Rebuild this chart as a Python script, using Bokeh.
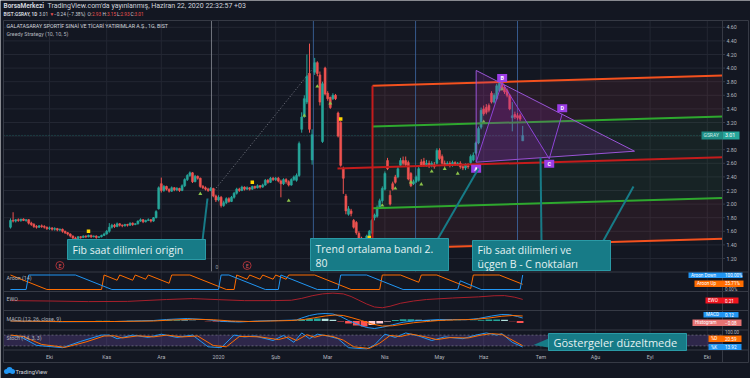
import numpy as np
import pandas as pd
from bokeh.plotting import figure
from bokeh.models import Range1d, ColumnDataSource
from bokeh.core.properties import value
from bokeh.embed import file_html
from bokeh.resources import INLINE

# ---------------------------------------------------------------- data
# BIST:GSRAY daily candles, 10 Sep 2019 .. 22 Jun 2020
opens = [
    1.66, 1.76, 1.75, 1.77, 1.76, 1.78, 1.76, 1.77, 1.72, 1.70, 1.67, 1.66, 1.68, 1.67, 1.66,
    1.64, 1.65, 1.63, 1.64, 1.62, 1.63, 1.60, 1.58, 1.56, 1.53, 1.50, 1.49, 1.52, 1.51, 1.53, 1.52, 1.54, 1.52, 1.53, 1.51, 1.52, 1.54,
    1.56, 1.60, 1.66, 1.69, 1.67, 1.71, 1.69, 1.68, 1.70, 1.69, 1.72, 1.70, 1.71, 1.75, 1.77, 1.74, 1.76, 1.77, 1.75, 1.80, 1.93,
    2.30, 2.20, 2.26, 2.22, 2.19, 2.24, 2.21, 2.23, 2.20, 2.27, 2.36, 2.42, 2.46, 2.33, 2.41, 2.38, 2.26, 2.24, 2.22, 2.20, 2.23, 2.12,
    2.06, 2.10, 1.98, 2.02, 2.08, 2.04, 2.10, 2.16, 2.22, 2.20, 2.25, 2.22, 2.24, 2.22, 2.26, 2.24, 2.27, 2.25, 2.28, 2.35, 2.32, 2.38,
    2.36, 2.38, 2.34, 2.30, 2.36, 2.33, 2.28, 2.36, 2.35, 2.42, 3.10, 3.30, 3.50, 3.92, 2.65, 3.94, 4.08, 3.90, 2.92, 4.00,
    3.63, 3.57, 3.55, 3.60, 3.34, 3.20, 2.52, 2.12, 1.85, 1.90, 1.76, 1.73, 1.57, 1.50, 1.42, 1.47, 1.53, 1.58, 1.80, 1.82, 1.95, 2.05,
    2.22, 2.64, 2.13, 2.30, 2.40, 2.40, 2.57, 2.64, 2.64, 2.61, 2.45, 2.30, 2.33, 2.35, 2.62, 2.63, 2.58, 2.60, 2.56, 2.58, 2.60,
    2.79, 2.70, 2.60, 2.58, 2.60, 2.57, 2.61, 2.58, 2.60, 2.55, 2.53, 2.56, 2.61, 2.65, 2.75, 2.90, 3.13,
    3.40, 3.42, 3.45, 3.63, 3.50, 3.55, 3.67, 3.78, 3.72, 3.67, 3.60, 3.27, 3.32, 3.30, 3.30, 2.93,
]
highs = [
    1.79, 1.88, 1.78, 1.79, 1.78, 1.79, 1.78, 1.78, 1.74, 1.72, 1.69, 1.69, 1.70, 1.69, 1.67,
    1.67, 1.66, 1.66, 1.65, 1.64, 1.64, 1.61, 1.59, 1.57, 1.54, 1.52, 1.53, 1.53, 1.54, 1.54, 1.55, 1.55, 1.54, 1.54, 1.53, 1.55, 1.58,
    1.62, 1.72, 1.71, 1.71, 1.73, 1.72, 1.70, 1.71, 1.71, 1.73, 1.73, 1.72, 1.76, 1.79, 1.78, 1.77, 1.79, 1.78, 1.81, 1.91, 2.26,
    2.39, 2.28, 2.27, 2.23, 2.26, 2.25, 2.25, 2.24, 2.29, 2.38, 2.44, 2.48, 2.47, 2.43, 2.42, 2.39, 2.28, 2.26, 2.24, 2.25, 2.24, 2.14,
    2.13, 2.12, 2.05, 2.10, 2.10, 2.12, 2.18, 2.24, 2.24, 2.27, 2.26, 2.26, 2.25, 2.27, 2.27, 2.29, 2.28, 2.30, 2.37, 2.37, 2.40, 2.40,
    2.40, 2.40, 2.36, 2.38, 2.38, 2.35, 2.38, 2.42, 2.45, 2.92, 3.35, 3.60, 4.20, 4.36, 3.10, 4.15, 4.10, 3.95, 3.80, 4.02,
    3.66, 3.58, 3.63, 3.62, 3.36, 3.22, 2.55, 2.15, 1.97, 1.93, 1.78, 1.75, 1.60, 1.52, 1.50, 1.55, 1.62, 1.78, 1.86, 1.98, 2.08, 2.26,
    2.48, 2.68, 2.20, 2.33, 2.43, 2.55, 2.68, 2.70, 2.70, 2.64, 2.47, 2.36, 2.42, 2.55, 2.66, 2.68, 2.65, 2.64, 2.63, 2.62, 2.82,
    2.82, 2.73, 2.64, 2.63, 2.63, 2.64, 2.63, 2.62, 2.63, 2.57, 2.60, 2.60, 2.73, 2.76, 2.92, 3.14, 3.42,
    3.45, 3.47, 3.48, 3.66, 3.63, 3.77, 3.85, 3.82, 3.75, 3.70, 3.62, 3.50, 3.36, 3.34, 3.33, 3.15,
]
lows = [
    1.64, 1.73, 1.73, 1.74, 1.74, 1.75, 1.74, 1.70, 1.68, 1.65, 1.64, 1.65, 1.65, 1.64, 1.62,
    1.62, 1.61, 1.61, 1.60, 1.60, 1.58, 1.56, 1.54, 1.51, 1.48, 1.46, 1.48, 1.49, 1.50, 1.50, 1.51, 1.50, 1.51, 1.49, 1.50, 1.51, 1.53,
    1.55, 1.58, 1.64, 1.65, 1.66, 1.67, 1.66, 1.67, 1.67, 1.68, 1.68, 1.69, 1.70, 1.74, 1.72, 1.73, 1.75, 1.73, 1.74, 1.79, 1.92,
    2.17, 2.18, 2.20, 2.17, 2.18, 2.19, 2.19, 2.18, 2.19, 2.25, 2.34, 2.40, 2.31, 2.32, 2.36, 2.24, 2.22, 2.20, 2.18, 2.19, 2.10, 2.03,
    2.04, 1.95, 1.96, 2.00, 2.02, 2.03, 2.08, 2.14, 2.18, 2.19, 2.20, 2.21, 2.20, 2.21, 2.22, 2.23, 2.23, 2.24, 2.27, 2.30, 2.31, 2.34,
    2.34, 2.32, 2.10, 2.28, 2.30, 2.26, 2.27, 2.34, 2.33, 2.40, 3.05, 3.27, 3.47, 3.05, 2.58, 3.90, 3.88, 3.45, 2.90, 3.60,
    3.52, 3.40, 3.53, 3.53, 2.98, 2.55, 2.15, 1.85, 1.83, 1.82, 1.64, 1.55, 1.47, 1.38, 1.40, 1.45, 1.50, 1.56, 1.76, 1.80, 1.93, 2.02,
    2.20, 2.50, 1.98, 2.20, 2.30, 2.38, 2.55, 2.57, 2.55, 2.35, 2.25, 2.28, 2.31, 2.33, 2.55, 2.55, 2.55, 2.53, 2.54, 2.52, 2.58,
    2.65, 2.58, 2.55, 2.56, 2.54, 2.55, 2.56, 2.56, 2.52, 2.50, 2.50, 2.52, 2.59, 2.63, 2.73, 2.88, 3.10,
    3.30, 3.32, 3.35, 3.48, 3.48, 3.53, 3.65, 3.67, 3.62, 3.57, 3.38, 3.07, 3.25, 3.24, 3.22, 2.93,
]
closes = [
    1.76, 1.75, 1.77, 1.76, 1.78, 1.76, 1.77, 1.72, 1.70, 1.67, 1.66, 1.68, 1.67, 1.66, 1.64,
    1.65, 1.63, 1.64, 1.62, 1.63, 1.60, 1.58, 1.56, 1.53, 1.50, 1.49, 1.52, 1.51, 1.53, 1.52, 1.54, 1.52, 1.53, 1.51, 1.52, 1.54, 1.56,
    1.60, 1.66, 1.69, 1.67, 1.71, 1.69, 1.68, 1.70, 1.69, 1.72, 1.70, 1.71, 1.75, 1.77, 1.74, 1.76, 1.77, 1.75, 1.80, 1.89, 2.24,
    2.20, 2.26, 2.22, 2.19, 2.24, 2.21, 2.23, 2.20, 2.27, 2.36, 2.42, 2.46, 2.33, 2.41, 2.38, 2.26, 2.24, 2.22, 2.20, 2.23, 2.12, 2.06,
    2.10, 1.98, 2.02, 2.08, 2.04, 2.10, 2.16, 2.22, 2.20, 2.25, 2.22, 2.24, 2.22, 2.26, 2.24, 2.27, 2.25, 2.28, 2.35, 2.32, 2.38, 2.36,
    2.38, 2.34, 2.30, 2.36, 2.33, 2.28, 2.36, 2.40, 2.42, 2.89, 3.28, 3.55, 3.88, 3.10, 3.02, 4.08, 3.92, 3.50, 3.77, 3.62,
    3.55, 3.42, 3.60, 3.55, 3.00, 2.57, 2.38, 1.90, 1.93, 1.86, 1.66, 1.58, 1.50, 1.42, 1.47, 1.53, 1.60, 1.76, 1.84, 1.95, 2.05, 2.23,
    2.45, 2.52, 2.00, 2.22, 2.32, 2.52, 2.64, 2.60, 2.58, 2.37, 2.27, 2.33, 2.40, 2.52, 2.57, 2.57, 2.60, 2.56, 2.60, 2.55, 2.79,
    2.67, 2.60, 2.58, 2.60, 2.57, 2.61, 2.58, 2.60, 2.55, 2.53, 2.58, 2.55, 2.70, 2.72, 2.90, 3.11, 3.38,
    3.33, 3.35, 3.38, 3.50, 3.60, 3.74, 3.79, 3.70, 3.65, 3.60, 3.40, 3.30, 3.28, 3.27, 3.25, 3.01,
]

month_keys = ["2019-10", "2019-11", "2019-12", "2020-01", "2020-02", "2020-03",
              "2020-04", "2020-05", "2020-06", "2020-07", "2020-08", "2020-09", "2020-10"]
month_labels = ["Eki", "Kas", "Ara", "2020", "Şub", "Mar", "Nis", "May", "Haz", "Tem", "Ağu", "Eyl", "Eki"]
price_ticks = [1.2, 1.4, 1.6, 1.8, 2.0, 2.2, 2.4, 2.6, 2.8, 3.0, 3.2, 3.4, 3.6, 3.8, 4.0, 4.2, 4.4, 4.6]
bist_holidays = ["2019-10-29", "2020-01-01", "2020-04-23", "2020-05-01", "2020-05-19",
                 "2020-05-25", "2020-05-26", "2020-07-15", "2020-07-31"]

# Greedy Strategy signal markers (bar index, price)
buy_idx = [73, 107, 113, 118, 123, 143, 148, 154, 158, 162, 167, 172, 182, 189]
buy_price = [2.15, 2.05, 3.30, 3.73, 3.48, 1.98, 2.23, 2.32, 2.29, 2.48, 2.52, 2.45, 3.21, 3.69]
sell_idx = [30, 93, 127, 138]
sell_price = [1.60, 2.32, 3.25, 1.51]
earn_idx = [19, 91]

# regression trend channel ("Trend ortalama bandı")
chan_mid_start, chan_mid_end = 2.54, 2.69
chan_dev_inner, chan_dev_outer = 0.60, 1.20

# Fib time zones + dotted origin line, triangle and ABCD pattern
fib_zone_idx = [77.3, 116.5, 155.8, 195.0]
fib_ray_idx = [77.7, 116.2]
fib_ray_price = [2.17, 3.99]
tri_idx = [179.1, 240.0, 179.1]
tri_price = [3.965, 2.778, 2.616]
abcd_idx = [179.1, 189.1, 207.2, 212.2]
abcd_price = [2.616, 3.79, 2.666, 3.328]
abcd_names = ["A", "B", "C", "D"]

# indicators (vertices)
aroon_up_idx = [0, 14, 35, 36, 41, 42, 47, 48, 52, 53, 61, 62, 69, 83, 86, 87, 91, 92, 96, 97, 101, 102,
                106, 107, 117, 131, 142, 143, 150, 157, 158, 164, 177, 178, 188, 197]
aroon_up_val = [100, 0, 0, 100, 64, 100, 64, 100, 71, 100, 43, 100, 100, 0, 0, 100, 71, 100, 71, 100, 71, 100,
                71, 100, 100, 0, 0, 100, 100, 50, 100, 100, 7, 100, 100, 36]
aroon_dn_idx = [0, 6, 7, 25, 39, 80, 81, 84, 98, 103, 104, 118, 126, 127, 137, 151, 172, 173, 181, 196, 197]
aroon_dn_val = [0, 0, 100, 100, 0, 0, 100, 100, 0, 0, 100, 0, 0, 100, 100, 0, 0, 60, 0, 0, 100]

ewo_idx = [0, 15, 30, 45, 60, 70, 80, 90, 100, 108, 112, 116, 120, 124, 128, 131, 134, 137, 140, 143,
           146, 150, 155, 160, 170, 180, 186, 190, 194, 197]
ewo_val = [0.05, 0.0, -0.08, -0.05, 0.20, 0.32, 0.18, 0.05, 0.05, 0.10, 0.35, 0.70, 0.95, 1.05, 0.95, 0.60,
           0.10, -0.40, -0.80, -0.90, -0.70, -0.30, 0.0, 0.20, 0.40, 0.55, 0.70, 0.72, 0.50, 0.21]

macd_idx = [0, 20, 40, 55, 60, 68, 75, 82, 88, 95, 103, 110, 112, 115, 118, 121, 124, 127, 130, 134, 137,
            140, 143, 147, 151, 155, 160, 165, 170, 175, 180, 185, 189, 192, 195, 197]
macd_val = [0.0, -0.03, -0.02, 0.02, 0.06, 0.10, 0.06, -0.02, -0.04, 0.0, 0.02, 0.04, 0.12, 0.22, 0.28, 0.30,
            0.28, 0.18, 0.02, -0.15, -0.26, -0.30, -0.25, -0.15, -0.05, 0.0, 0.03, 0.06, 0.06, 0.05, 0.10,
            0.20, 0.26, 0.25, 0.18, 0.12]
signal_idx = [0, 20, 40, 55, 62, 70, 78, 85, 92, 100, 108, 113, 117, 121, 125, 128, 131, 135, 139, 143,
              147, 151, 155, 160, 166, 172, 178, 184, 189, 193, 197]
signal_val = [0.0, -0.02, -0.02, 0.0, 0.04, 0.07, 0.05, 0.0, -0.02, 0.0, 0.02, 0.06, 0.13, 0.20, 0.24, 0.22,
              0.14, 0.02, -0.12, -0.20, -0.19, -0.13, -0.07, -0.02, 0.03, 0.05, 0.06, 0.12, 0.19, 0.22, 0.20]
# histogram, one value per 3 bars
hist_val = [0.00, -0.01, -0.01, -0.01, -0.01, 0.00, 0.00,
            -0.01, -0.01, 0.00, 0.00, 0.01, 0.01, 0.00,
            0.00, 0.01, 0.01, 0.01, 0.02, 0.03, 0.03,
            0.03, 0.02, 0.01, 0.00, -0.01, -0.02, -0.03,
            -0.03, -0.02, -0.02, -0.01, 0.00, 0.01,
            0.01, 0.01, 0.02, 0.06, 0.09, 0.10, 0.09,
            0.05, -0.02, -0.10, -0.18, -0.22, -0.16, -0.10,
            -0.02, 0.04, 0.07, 0.07, 0.05, 0.04, 0.03,
            0.02, 0.01, 0.01, 0.00, 0.01, 0.03, 0.06,
            0.06, 0.05, -0.01, -0.08]

stoch_k_idx = [0, 4, 10, 20, 27, 35, 38, 41, 47, 53, 58, 64, 70, 76, 81, 86, 90, 94, 101, 105, 109, 112,
               115, 118, 122, 126, 130, 137, 140, 144, 148, 152, 157, 162, 167, 174, 179, 183, 187, 189, 193, 197]
stoch_k_val = [78, 70, 23, 10, 45, 80, 80, 60, 80, 67, 85, 67, 80, 15, 10, 80, 70, 75, 50, 78, 40, 92,
               60, 85, 75, 60, 10, 3, 25, 85, 67, 92, 75, 50, 70, 60, 80, 92, 80, 88, 40, 14]
stoch_d_idx = [0, 5, 12, 21, 29, 36, 40, 43, 49, 55, 60, 66, 72, 78, 83, 88, 92, 96, 103, 107, 110, 114,
               117, 120, 124, 128, 132, 138, 142, 146, 150, 154, 159, 164, 169, 176, 181, 185, 189, 192, 197]
stoch_d_val = [80, 72, 28, 12, 42, 75, 76, 64, 76, 70, 80, 70, 75, 22, 15, 72, 72, 70, 55, 70, 50, 82,
               68, 80, 72, 52, 15, 6, 35, 78, 72, 86, 72, 55, 66, 64, 80, 88, 84, 60, 21]

# ---------------------------------------------------------------- geometry helpers
W, H = 750, 378
BAR_PX, X0_PX = 2.6, 10.0


def X(px):
    return (px - X0_PX) / BAR_PX


def Y(py):
    return 1.2 + (258.0 - py) / 68.0


def panel_range(v_a, py_a, v_b, py_b):
    k = (v_b - v_a) / (py_b - py_a)
    return Range1d(start=v_a + (H - py_a) * k, end=v_a + (0 - py_a) * k)


BG = "#131722"
GRID = "#232733"
BORDER = "#363a45"
TXT = "#b2b5be"
UP, DN = "#26a69a", "#ef5350"
BLUE, ORANGE = "#2196f3", "#ff6d00"
CALLOUT, CALLOUT_TXT = "#177b87", "#e3f1f2"
PURPLE = "#9b3de6"

p = figure(width=W, height=H, output_backend="svg", toolbar_location=None,
           x_axis_location=None, y_axis_location=None,
           x_range=Range1d(X(0), X(W)), y_range=Range1d(Y(H), Y(0)),
           min_border=0, min_border_left=0, min_border_right=0,
           min_border_top=0, min_border_bottom=0,
           background_fill_color=BG, border_fill_color=BG, outline_line_color=None)
p.grid.visible = False
p.extra_y_ranges = {
    "aroon": panel_range(0, 289.0, 100, 274.5),
    "ewo": panel_range(0, 300.5, 1, 293.0),
    "macd": panel_range(0, 320.5, 0.3, 313.0),
    "stoch": panel_range(0, 349.0, 100, 331.0),
}


def seg(x0, y0, x1, y1, color, width=1, dash="solid", alpha=1.0):
    p.line([X(x0), X(x1)], [Y(y0), Y(y1)], line_color=color, line_width=width,
           line_dash=dash, line_alpha=alpha)


def box(l, t, r, b, fill, line=None, alpha=1.0):
    p.quad(left=[X(l)], right=[X(r)], top=[Y(t)], bottom=[Y(b)], fill_color=fill,
           fill_alpha=alpha, line_color=line if line else None)


def txt(px, py, s, size="5.5px", color=TXT, align="left", bold=False, font="Roboto"):
    p.text(x=[X(px)], y=[Y(py)], text=[s], text_font=value(font), text_font_size=size,
           text_color=color, text_align=align, text_baseline="middle",
           text_font_style="bold" if bold else "normal")


# ---------------------------------------------------------------- dates / ticks
days = pd.bdate_range("2019-09-10", "2020-10-30")
days = days[~days.isin(pd.to_datetime(bist_holidays))]
ym = days.strftime("%Y-%m")
month_idx = [int(np.argmax(ym == k)) for k in month_keys]

# ---------------------------------------------------------------- grid
for mi in month_idx:
    p.line([mi, mi], [Y(20), Y(349.5)], line_color=GRID, line_width=1)
for t in price_ticks:
    p.line([X(3), X(722)], [t, t], line_color=GRID, line_width=1)

# ---------------------------------------------------------------- trend channel fills
cs, ce = X(372), X(722)
up_o = [chan_mid_start + chan_dev_outer, chan_mid_end + chan_dev_outer]
up_i = [chan_mid_start + chan_dev_inner, chan_mid_end + chan_dev_inner]
lo_i = [chan_mid_start - chan_dev_inner, chan_mid_end - chan_dev_inner]
lo_o = [chan_mid_start - chan_dev_outer, chan_mid_end - chan_dev_outer]
p.patch([cs, ce, ce, cs], [up_o[0], up_o[1], up_i[1], up_i[0]], fill_color="#ff5252", fill_alpha=0.08, line_color=None)
p.patch([cs, ce, ce, cs], [up_i[0], up_i[1], lo_i[1], lo_i[0]], fill_color="#4caf50", fill_alpha=0.08, line_color=None)
p.patch([cs, ce, ce, cs], [lo_i[0], lo_i[1], lo_o[1], lo_o[0]], fill_color="#ff5252", fill_alpha=0.08, line_color=None)

# current price line
p.line([X(3), X(722)], [closes[-1], closes[-1]], line_color=UP, line_alpha=0.45, line_width=1, line_dash="1 2")

# Fib time zones
for k, fz in enumerate(fib_zone_idx):
    p.line([fz, fz], [Y(20), Y(271)], line_color="#8a8d96" if k == 0 else "#3f6aa8",
           line_width=1, line_alpha=0.8)
p.line(fib_ray_idx, fib_ray_price, line_color="#787b86", line_width=1, line_dash="1 2")
txt(215, 266, "0", size="5px", color="#9598a1")

# ---------------------------------------------------------------- candles
n = len(closes)
bar_x = np.arange(n)
src = ColumnDataSource(dict(
    x=bar_x,
    h=np.maximum(np.array(highs), np.maximum(opens, closes)),
    l=np.minimum(np.array(lows), np.minimum(opens, closes)),
    top=np.maximum(opens, closes), bot=np.minimum(opens, closes),
    col=[UP if c >= o else DN for o, c in zip(opens, closes)],
))
p.segment(x0="x", y0="l", x1="x", y1="h", line_color="col", line_width=1, source=src)
p.vbar(x="x", top="top", bottom="bot", width=0.75, fill_color="col", line_color="col",
       line_width=0.6, source=src)

# signals
p.scatter(buy_idx, buy_price, marker="triangle", size=4, fill_color="#8bc34a", line_color=None)
p.scatter(sell_idx, sell_price, marker="square", size=3.5, fill_color="#ffd600", line_color=None)

# ---------------------------------------------------------------- channel lines
slope = (chan_mid_end - chan_mid_start) / (ce - cs)
red_start = X(337)
p.line([red_start, ce], [chan_mid_start + slope * (red_start - cs), chan_mid_end], line_color="#c41c1c", line_width=2)
p.line([cs, ce], up_o, line_color="#f4511e", line_width=2)
p.line([cs, ce], lo_o, line_color="#f4511e", line_width=2)
p.line([cs, ce], up_i, line_color="#2ea82e", line_width=2)
p.line([cs, ce], lo_i, line_color="#2ea82e", line_width=2)
p.line([cs, cs], [lo_o[0], up_o[0]], line_color="#c41c1c", line_width=2)

# ---------------------------------------------------------------- triangle + ABCD
p.patch(tri_idx, tri_price, fill_color="#9c27b0", fill_alpha=0.18, line_color="#9a55d6", line_width=1)
p.patch(abcd_idx[:3], abcd_price[:3], fill_color="#9c27b0", fill_alpha=0.16, line_color=None)
p.line(abcd_idx, abcd_price, line_color="#8e44d8", line_width=1)
lab_dy = [-6.5, 4.5, -5.0, 5.5]
for name, bx, by, dy in zip(abcd_names, abcd_idx, abcd_price, lab_dy):
    cy = by + dy / 68.0
    p.quad(left=[bx - 5 / BAR_PX], right=[bx + 5 / BAR_PX], top=[cy + 4 / 68.0], bottom=[cy - 4 / 68.0],
           fill_color=PURPLE, line_color=None)
    p.text(x=[bx], y=[cy], text=[name], text_font=value("Roboto"), text_font_size="5.5px",
           text_color="white", text_align="center", text_baseline="middle", text_font_style="bold")

# earnings markers
p.scatter(earn_idx, [Y(265)] * len(earn_idx), marker="circle", size=8, fill_color=BG,
          line_color="#a8323a", line_width=1)
p.text(x=earn_idx, y=[Y(265)] * len(earn_idx), text=["E"] * len(earn_idx), text_font=value("Roboto"),
       text_font_size="5px", text_color="#e0585f", text_align="center", text_baseline="middle")

# ---------------------------------------------------------------- indicator panels
p.line(aroon_up_idx, aroon_up_val, y_range_name="aroon", line_color=ORANGE, line_width=1)
p.line(aroon_dn_idx, aroon_dn_val, y_range_name="aroon", line_color=BLUE, line_width=1)

p.line(ewo_idx, ewo_val, y_range_name="ewo", line_color="#a8202c", line_width=1)

hist_x = [1 + 3 * k for k in range(len(hist_val))]
hist_col = []
for k, v in enumerate(hist_val):
    prev = hist_val[k - 1] if k else v
    if v >= 0:
        hist_col.append("#26a69a" if v >= prev else "#b2dfdb")
    else:
        hist_col.append("#ffcdd2" if v >= prev else "#ff5252")
p.vbar(x=hist_x, top=hist_val, bottom=0, width=2.6, y_range_name="macd",
       fill_color=hist_col, line_color=None)
p.line(macd_idx, macd_val, y_range_name="macd", line_color=BLUE, line_width=1)
p.line(signal_idx, signal_val, y_range_name="macd", line_color=ORANGE, line_width=1)

p.quad(left=[X(3)], right=[X(722)], top=[80], bottom=[20], y_range_name="stoch",
       fill_color="#7e57c2", fill_alpha=0.25, line_color=None)
for lvl in (80, 20):
    p.line([X(3), X(722)], [lvl, lvl], y_range_name="stoch", line_color="#787b86",
           line_width=1, line_dash="2 2", line_alpha=0.7)
p.line(stoch_k_idx, stoch_k_val, y_range_name="stoch", line_color=BLUE, line_width=1)
p.line(stoch_d_idx, stoch_d_val, y_range_name="stoch", line_color=ORANGE, line_width=1)

# ---------------------------------------------------------------- frame lines
for yy in (20, 271.5, 291, 310, 329.5, 349.5, 362):
    seg(3, yy, 748, yy, BORDER)
seg(3, 20, 3, 362, BORDER)
seg(748, 20, 748, 362, BORDER)
seg(722, 20, 722, 362, BORDER)

# ---------------------------------------------------------------- callouts
def callout(l, t, r, b, lines, y0, size="10.5px"):
    box(l, t, r, b, CALLOUT, line="#2a9aa6")
    for k, s in enumerate(lines):
        txt(l + 5, y0 + 14 * k, s, size=size, color=CALLOUT_TXT, font="Open Sans")


seg(202, 240, 207, 198, CALLOUT, width=2)
seg(437, 239, 478, 168, CALLOUT, width=2)
seg(541, 240, 540, 157, CALLOUT, width=2)
seg(603, 240, 633, 186, CALLOUT, width=2)
callout(67, 239, 205, 259, ["Fib saat dilimleri origin"], 249)
callout(310, 238, 448, 270, ["Trend ortalama bandı 2.", "80"], 248)
callout(472, 240, 610, 270, ["Fib saat dilimleri ve", "üçgen B - C noktaları"], 249)
p.patch([X(548), X(533), X(548)], [Y(338), Y(344.5), Y(347)], fill_color=CALLOUT, line_color=None)
callout(548, 333, 686, 350, ["Göstergeler düzeltmede"], 341.5, size="11px")

# ---------------------------------------------------------------- header / titles
txt(3, 5.5, "BorsaMerkezi", size="6.5px", color="#d1d4dc", bold=True)
txt(47, 5.5, "TradingView.com'da yayınlanmış, Haziran 22, 2020 22:32:57 +03", size="7px", color="#d1d4dc")
hdr = [(3, "BIST:GSRAY, 1D", "#d1d4dc", True), (38.5, "3.01", "#d1d4dc", False), (49, "▼", DN, False),
       (53.5, "−0.24 (−7.38%)", "#d1d4dc", False), (87, "O:", "#d1d4dc", False), (91.5, "2.93", DN, False),
       (102, "H:", "#d1d4dc", False), (106.5, "3.15", DN, False), (116.5, "L:", "#d1d4dc", False),
       (120, "2.93", DN, False), (130, "C:", "#d1d4dc", False), (134, "3.01", DN, False)]
for hx, hs, hc, hb in hdr:
    txt(hx, 13.5, hs, size="4.7px", color=hc, bold=hb)
txt(6, 25, "GALATASARAY SPORTİF SINAİ VE TİCARİ YATIRIMLAR A.Ş., 1G, BIST", size="5.3px", color="#d1d4dc")
txt(6, 33, "Greedy Strategy (10, 10, 5)", size="5.3px", color=TXT)
txt(6, 277, "Aroon (14)", size="5.3px")
txt(6, 298, "EWO", size="5.3px")
txt(6, 318, "MACD (12, 26, close, 9)", size="5.3px")
txt(6, 337, "Stoch (14, 3, 3)", size="5.3px")

# ---------------------------------------------------------------- price axis
p.text(x=[X(726)] * len(price_ticks), y=price_ticks, text=[f"{t:.2f}" for t in price_ticks],
       text_font=value("Roboto"), text_font_size="5.3px", text_color=TXT, text_align="left",
       text_baseline="middle")
for t in price_ticks:
    p.line([X(722), X(724.5)], [t, t], line_color=BORDER, line_width=1)
p.quad(left=[X(701)], right=[X(722)], top=[closes[-1] + 4 / 68], bottom=[closes[-1] - 4 / 68],
       fill_color="#1e8c84", line_color=None)
p.quad(left=[X(722)], right=[X(739)], top=[closes[-1] + 4 / 68], bottom=[closes[-1] - 4 / 68],
       fill_color=UP, line_color=None)
p.text(x=[X(703)], y=[closes[-1]], text=["GSRAY"], text_font=value("Roboto"), text_font_size="5px",
       text_color="#c9ece8", text_baseline="middle")
p.text(x=[X(724.5)], y=[closes[-1]], text=[f"{closes[-1]:.2f}"], text_font=value("Roboto"),
       text_font_size="5.3px", text_color="white", text_baseline="middle")

# month labels
p.text(x=month_idx, y=[Y(356.5)] * len(month_idx), text=month_labels, text_font=value("Roboto"),
       text_font_size="5.3px", text_color=TXT, text_align="center", text_baseline="middle")

# indicator value tags
tags = [(688, 742, 272, 277.5, BLUE, "Aroon Down", "100.00%"),
        (694, 743, 280, 286.5, ORANGE, "Aroon Up", "35.71%"),
        (705, 738, 297, 303, "#f0141e", "EWO", "0.21"),
        (703, 738, 311.5, 317, BLUE, "MACD", "0.12"),
        (692, 741, 319, 325.5, "#e57373", "Histogram", "−0.08"),
        (708, 741, 335, 341.5, ORANGE, "%D", "20.59"),
        (708, 741, 343.5, 349.5, BLUE, "%K", "13.92")]
for l, r, t, b, c, name, val in tags:
    box(l, t, r, b, c)
    txt(l + 2.5, (t + b) / 2, name, size="4.6px", color="white")
    txt(724.5, (t + b) / 2, val, size="4.6px", color="white")
txt(724.5, 289, "0.00%", size="4.6px")
txt(724.5, 331.5, "100.00", size="4.6px")

# TradingView logo
p.scatter([X(6), X(9), X(12)], [Y(371), Y(369.5), Y(371)], marker="circle", size=[5, 6, 5],
          fill_color=BLUE, line_color=None)
txt(15, 371, "TradingView", size="5.8px", color="#d1d4dc")

open("out.html", "w").write(file_html(p, INLINE))
